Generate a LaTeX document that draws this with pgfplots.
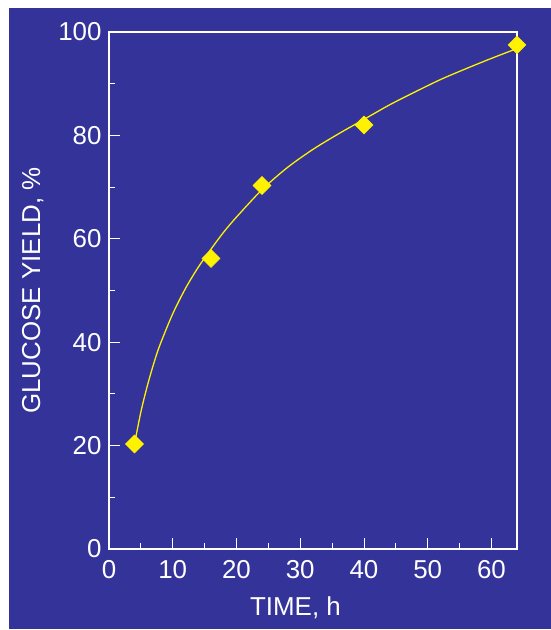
\documentclass[border=0pt]{standalone}
\usepackage{fontspec}
\setmainfont{Liberation Sans}
\usepackage{pgfplots}
\pgfplotsset{compat=1.18}
\definecolor{bgblue}{RGB}{51,51,153}
\begin{document}
\begin{tikzpicture}[x=1bp,y=1bp]
% background: white margin, blue panel
\fill[white] (-109,-81) rectangle (442,549);
\fill[bgblue] (-100,-80) rectangle (442,541);
\begin{axis}[
  at={(0,0)}, anchor=south west,
  scale only axis,
  width=408bp, height=517bp,
  xmin=0, xmax=64,
  ymin=0, ymax=100,
  xtick={0,10,...,60},
  ytick={0,20,...,100},
  minor x tick num=1,
  minor y tick num=1,
  tick pos=left,
  tick align=inside,
  major tick length=11bp,
  minor tick length=6bp,
  axis line style={white, line width=1.2bp},
  every tick/.style={white, line width=1bp},
  /pgf/number format/assume math mode=true,
  tick label style={white, font=\fontsize{26}{30}\selectfont},
  xticklabel style={yshift=-8bp},
  yticklabel style={xshift=-4bp},
  label style={white, font=\fontsize{26}{30}\selectfont},
  xlabel={TIME, h},
  ylabel={GLUCOSE YIELD, \%},
  xlabel style={at={(axis description cs:0.457,-0.1277)}, anchor=base},
  ylabel style={at={(axis description cs:-0.169,0.5)}, anchor=base},
]
  % fitted curve
  \addplot[yellow, line width=1.3bp, smooth, no marks] coordinates {
    (4,20.3) (5,26.5) (6,31.5) (7,35.8) (8,39.5) (10,45.5) (12,50.4)
    (14,54.5) (16,58.0) (18,61.3) (20,64.2) (24,69.5) (28,73.8)
    (32,77.3) (36,80.3) (40,83.1) (44,85.9) (48,88.4) (52,90.8)
    (56,92.9) (60,94.9) (64,96.8)
  };
  % measured points
  \addplot[only marks, mark=square*, mark size=6.4bp,
    mark options={rotate=45, fill=yellow, draw=yellow}] coordinates {
    (4,20.3) (16,56.2) (24,70.3) (40,82.0) (64,97.5)
  };
\end{axis}
\pgfresetboundingbox
\path[use as bounding box] (-109,-81) rectangle (442,549);
\end{tikzpicture}
\end{document}
